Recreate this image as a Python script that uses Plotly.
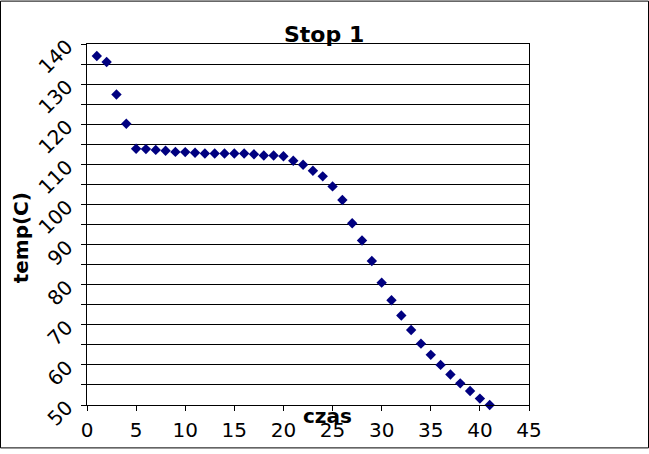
import plotly.graph_objects as go

czas = list(range(1, 42))
temp = [137.0, 135.5, 127.4, 120.1, 113.9, 113.8, 113.6, 113.4, 113.1, 113.05,
        112.9, 112.7, 112.7, 112.7, 112.7, 112.7, 112.5, 112.2, 112.2, 112.0,
        110.9, 109.9, 108.4, 107.0, 104.5, 101.1, 95.3, 91.0, 85.9, 80.5,
        76.1, 72.3, 68.7, 65.3, 62.5, 60.0, 57.6, 55.4, 53.5, 51.6, 50.0]

title_text = "Stop 1"
x_title = "czas"
y_title = "temp(C)"

FONT = "DejaVu Sans"

fig = go.Figure()
fig.add_trace(go.Scatter(
    x=czas, y=temp, mode="markers",
    marker=dict(symbol="diamond", color="#000080", size=8, line=dict(width=0)),
    showlegend=False, cliponaxis=False,
))

L, R, T, B = 87, 120, 44, 44
W, H = 649, 454
pw, ph = W - L - R, H - T - B

fig.update_layout(
    width=W, height=H,
    margin=dict(l=L, r=R, t=T, b=B, pad=0),
    paper_bgcolor="white", plot_bgcolor="white",
    font=dict(family=FONT, color="black", size=20),
    xaxis=dict(range=[0, 45], dtick=5, tick0=0, showgrid=False, zeroline=False,
               showline=True, linecolor="black", linewidth=1, mirror=True,
               ticks="outside", ticklen=5, tickcolor="black",
               tickfont=dict(size=20, family=FONT), ticklabelstandoff=2),
    yaxis=dict(range=[50, 140], dtick=10, tick0=50, showgrid=True, gridcolor="black",
               gridwidth=1, zeroline=False,
               showline=True, linecolor="black", linewidth=1, mirror=True,
               ticks="outside", ticklen=5, tickcolor="black", tickangle=-45,
               tickfont=dict(size=20, family=FONT), ticklabelstandoff=10,
               minor=dict(dtick=5, showgrid=True, gridcolor="black", gridwidth=1,
                          ticks="outside", ticklen=5, tickcolor="black")),
)

fig.add_annotation(text="<b>" + title_text + "</b>", xref="paper", yref="paper",
                   x=(324 - L) / pw, y=(H - B - 34) / ph, showarrow=False,
                   font=dict(size=22, family=FONT), xanchor="center", yanchor="middle")
fig.add_annotation(text="<b>" + x_title + "</b>", xref="paper", yref="paper",
                   x=(327 - L) / pw, y=(H - B - 421) / ph, showarrow=False,
                   font=dict(size=20, family=FONT), xanchor="center", yanchor="middle")
fig.add_annotation(text="<b>" + y_title + "</b>", xref="paper", yref="paper",
                   x=(21 - L) / pw, y=(H - B - 241) / ph, showarrow=False, textangle=-90,
                   font=dict(size=20, family=FONT), xanchor="center", yanchor="middle")

fig.add_shape(type="rect", xref="paper", yref="paper",
              x0=(0.5 - L) / pw, x1=(W - 0.5 - L) / pw,
              y0=(H - B - (H - 0.5)) / ph, y1=(H - B - 0.5) / ph,
              line=dict(color="black", width=1), fillcolor="rgba(0,0,0,0)", layer="above")

fig.write_html("out.html", config={"displayModeBar": False},
               post_script="document.body.style.margin='0';document.body.style.overflow='hidden';")
